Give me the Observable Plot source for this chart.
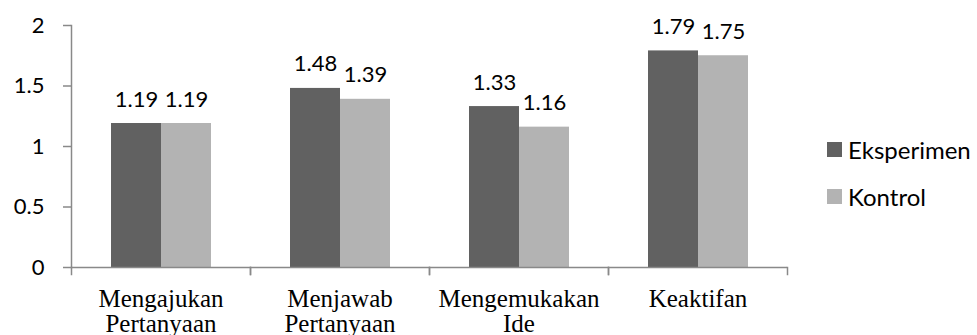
<!DOCTYPE html>
<html>
<head>
<meta charset="utf-8">
<script src="https://cdn.jsdelivr.net/npm/d3@7"></script>
<script src="https://cdn.jsdelivr.net/npm/@observablehq/plot@0.6"></script>
<style>
  html, body { margin: 0; padding: 0; background: #fff; }
  #wrap { position: relative; width: 977px; height: 335px; overflow: hidden; }
  #legend { position: absolute; left: 827px; top: 125.5px; }
  #legend .lg-swatches, #legend .lg-swatch { font-family: Lato, sans-serif !important; font-size: 24px !important; color: #000 !important; margin: 0 !important; }
  #legend .lg-swatch { height: 47px; padding-bottom: 0 !important; }
  #legend .lg-swatch svg { margin-right: 6px !important; }
</style>
</head>
<body>
<div id="wrap"></div>
<script>
const categories = ["Mengajukan Pertanyaan", "Menjawab Pertanyaan", "Mengemukakan Ide", "Keaktifan"];
const series = ["Eksperimen", "Kontrol"];
const eksperimen = [1.19, 1.48, 1.33, 1.79];
const kontrol = [1.19, 1.39, 1.16, 1.75];
const yTicks = [0, 0.5, 1, 1.5, 2];
const colors = ["#616161", "#b3b3b3"];
const axisColor = "#898989";

const data = categories.flatMap((c, i) => [
  {category: c, series: series[0], value: eksperimen[i]},
  {category: c, series: series[1], value: kontrol[i]}
]);

const W = 977, H = 335, mT = 25, mR = 189, mB = 68, mL = 70;
const innerH = H - mT - mB;

const chart = Plot.plot({
  width: W, height: H,
  marginTop: mT, marginRight: mR, marginBottom: mB, marginLeft: mL,
  style: {fontFamily: "Lato, sans-serif", fontSize: "22px", color: "#000", background: "#fff", overflow: "visible"},
  fx: {domain: categories, padding: 0, label: null},
  x: {domain: series, paddingInner: 0, paddingOuter: 0.76, axis: null},
  y: {domain: [0, 2], axis: null},
  color: {domain: series, range: colors},
  marks: [
    Plot.barY(data, {fx: "category", x: "series", y: "value", fill: "series"}),
    Plot.text(data, {fx: "category", x: "series", y: "value", text: d => d.value.toFixed(2),
      lineAnchor: "bottom", dy: -17, fill: "#000", fontSize: 22, fontFamily: "Lato, sans-serif"}),
    Plot.frame({anchor: "left", facetAnchor: "left", stroke: axisColor, strokeWidth: 1.5}),
    Plot.ruleY([0], {stroke: axisColor, strokeWidth: 1.5}),
    Plot.frame({anchor: "left", insetTop: innerH, insetBottom: -7, stroke: axisColor, strokeWidth: 1.5}),
    Plot.frame({anchor: "right", insetTop: innerH, insetBottom: -7, stroke: axisColor, strokeWidth: 1.5}),
    Plot.axisY({ticks: yTicks, tickSize: 8, tickPadding: 19, tickFormat: d => String(d), label: null,
      stroke: axisColor, strokeWidth: 1.5, fill: "#000", fontSize: 22, fontFamily: "Lato, sans-serif"}),
    Plot.axisFx({anchor: "bottom", tickSize: 0, tickPadding: 22, label: null,
      tickFormat: d => d.replace(" ", "\n"), lineHeight: 1.0,
      fill: "#000", fontSize: 25, fontFamily: "'Liberation Serif', 'Times New Roman', serif"})
  ]
});

const wrap = document.getElementById("wrap");
wrap.appendChild(chart);

const legend = Plot.legend({
  color: {domain: series, range: colors},
  columns: 1, swatchSize: 15, className: "lg"
});
const lgDiv = document.createElement("div");
lgDiv.id = "legend";
lgDiv.appendChild(legend);
wrap.appendChild(lgDiv);
</script>
</body>
</html>
